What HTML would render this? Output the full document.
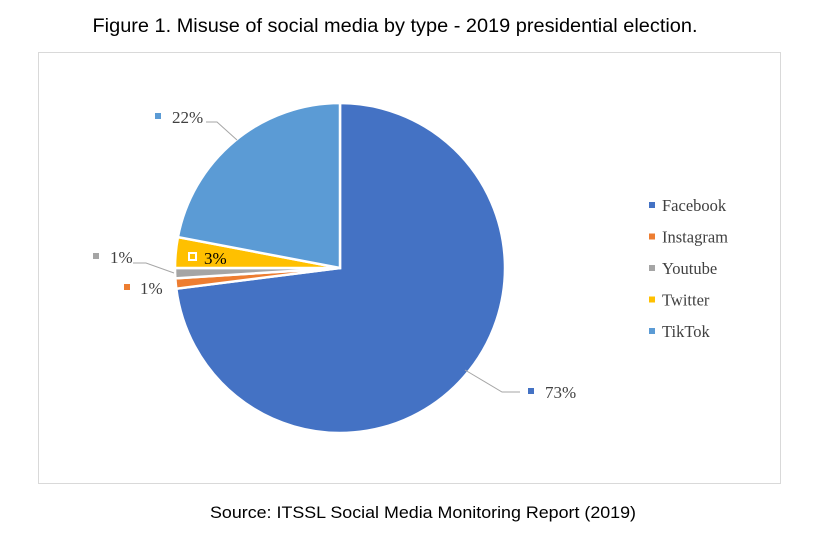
<!DOCTYPE html>
<html><head><meta charset="utf-8"><style>
body{margin:0;background:#fff;width:816px;height:553px;overflow:hidden}
svg{display:block}
</style></head><body>
<svg id="chart" width="816" height="553">
<text x="395" y="32" text-anchor="middle" font-family="Liberation Sans, sans-serif" font-size="19" textLength="605" lengthAdjust="spacingAndGlyphs" fill="#000">Figure 1. Misuse of social media by type - 2019 presidential election.</text>
<rect x="38.5" y="52.5" width="742" height="431" fill="none" stroke="#d9d9d9"/>
<g id="slices"></g>
<g id="labels" font-family="Liberation Serif, serif" font-size="17" fill="#404040"></g>
<g id="legend" font-family="Liberation Serif, serif" font-size="16.5" fill="#404040"></g>
<text x="423" y="518" text-anchor="middle" font-family="Liberation Sans, sans-serif" font-size="17" textLength="426" lengthAdjust="spacingAndGlyphs" fill="#000">Source: ITSSL Social Media Monitoring Report (2019)</text>
</svg>
<script>
const categories=["Facebook","Instagram","Youtube","Twitter","TikTok"];
const values=[73,1,1,3,22];
const valueLabels=["73%","1%","1%","3%","22%"];
const colors=["#4472c4","#ed7d31","#a5a5a5","#ffc000","#5b9bd5"];
const NS="http://www.w3.org/2000/svg";
const cx=340,cy=268,r=165;
const total=values.reduce((a,b)=>a+b,0);
function pt(a,rr){return [cx+rr*Math.sin(a),cy-rr*Math.cos(a)];}
const sg=document.getElementById('slices');
let a0=0;
values.forEach((v,i)=>{
  const a1=a0+v/total*2*Math.PI;
  const p0=pt(a0,r),p1=pt(a1,r);
  const large=(a1-a0)>Math.PI?1:0;
  const p=document.createElementNS(NS,'path');
  p.setAttribute('d',`M${cx},${cy}L${p0[0]},${p0[1]}A${r},${r} 0 ${large} 1 ${p1[0]},${p1[1]}Z`);
  p.setAttribute('fill',colors[i]);
  p.setAttribute('stroke','#fff');
  p.setAttribute('stroke-width','2.5');
  
  
  sg.appendChild(p);
  a0=a1;
});
const lg=document.getElementById('labels');
const labelPos=[[545,398,528,"M520,392L502,392L465,370"],[140,294,124,null],[110,263,93,"M133,263L146,263L174,273"],[204,264,188,null],[172,123,155,"M206,122L217,122L237,140"]];
labelPos.forEach((lp,i)=>{
  if(lp[3]){const l=document.createElementNS(NS,'path');l.setAttribute('d',lp[3]);l.setAttribute('fill','none');l.setAttribute('stroke','#a6a6a6');l.setAttribute('stroke-width','1');
    
    
    lg.appendChild(l);}
  const m=document.createElementNS(NS,'rect');
  m.setAttribute('x',lp[2]);m.setAttribute('y',lp[1]-10);m.setAttribute('width',6);m.setAttribute('height',6);
  if(i===3){m.setAttribute('stroke','#fff');m.setAttribute('x',lp[2]+1);m.setAttribute('y',lp[1]-11);m.setAttribute('width',7);m.setAttribute('height',7);m.setAttribute('stroke-width','2');m.setAttribute('fill','none');}
  else m.setAttribute('fill',colors[i]);
  lg.appendChild(m);
  const t=document.createElementNS(NS,'text');
  t.setAttribute('x',lp[0]);t.setAttribute('y',lp[1]);
  t.setAttribute('fill',i===3?'#000':'#404040');
  t.textContent=valueLabels[i];
  
  
  lg.appendChild(t);
});
const leg=document.getElementById('legend');
categories.forEach((c,i)=>{
  const y=211+i*31.5;
  const m=document.createElementNS(NS,'rect');
  m.setAttribute('x',649);m.setAttribute('y',y-9);m.setAttribute('width',6);m.setAttribute('height',6);m.setAttribute('fill',colors[i]);
  leg.appendChild(m);
  const t=document.createElementNS(NS,'text');
  t.setAttribute('x',662);t.setAttribute('y',y);t.textContent=c;
  
  
  leg.appendChild(t);
});
</script>
</body></html>
